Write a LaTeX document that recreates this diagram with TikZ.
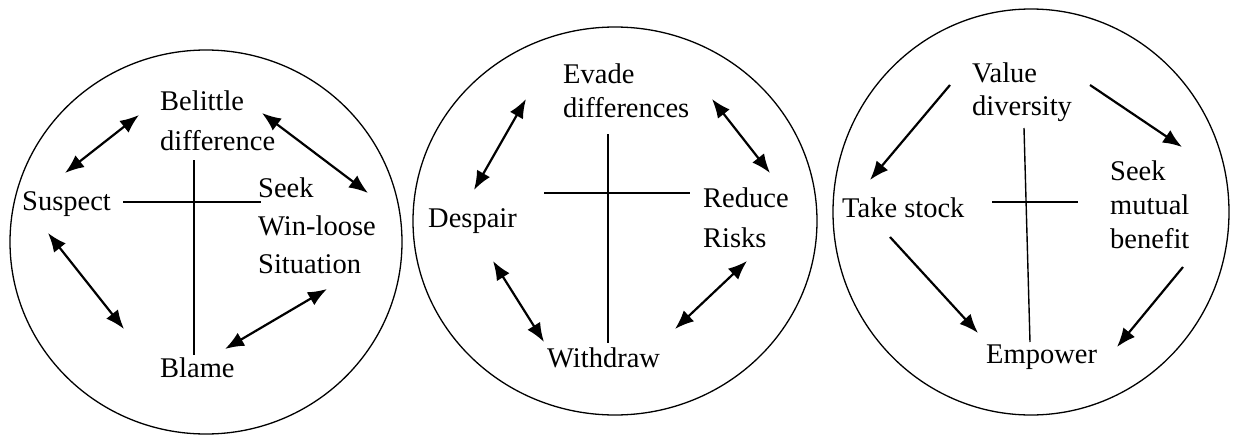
\documentclass[tikz,border=0pt]{standalone}
\usepackage{fontspec}
\setmainfont{Liberation Serif}
\usetikzlibrary{arrows.meta}
\begin{document}
\begin{tikzpicture}[x=1pt,y=-1pt,
  lbl/.style={anchor=base west,inner sep=0pt,align=left,font=\fontsize{28.5}{#1}\selectfont},
  lbl/.default=38,
  ring/.style={draw,line width=1.3pt},
  crossline/.style={draw,line width=1.4pt},
  dbl/.style={line width=2.2pt,{Latex[length=19pt,width=15pt]}-{Latex[length=19pt,width=15pt]}},
  sgl/.style={line width=2.2pt,-{Latex[length=19pt,width=15pt]}}]
\useasboundingbox (0,0) rectangle (1235,434);
% ---------- circle 1
\draw[ring] (206,242) ellipse [x radius=196pt,y radius=192pt];
\node[lbl=40] (belittle) at (160,150) {Belittle\\difference};
\node[lbl] (suspect) at (22,210) {Suspect};
\node[lbl=38] (seek1) at (258,273) {Seek\\Win-loose\\Situation};
\node[lbl] (blame) at (160,377) {Blame};
\coordinate (v1t) at (194,160); \coordinate (v1b) at (194,355);
\coordinate (h1l) at (123,202); \coordinate (h1r) at (261,202);
\draw[crossline] (v1t) -- (v1b);
\draw[crossline] (h1l) -- (h1r);
\coordinate (a1s) at (65,173);  \coordinate (a1e) at (139,115);
\coordinate (a2s) at (262,113); \coordinate (a2e) at (368,193);
\coordinate (a3s) at (48,233);  \coordinate (a3e) at (124,329);
\coordinate (a4s) at (225,349); \coordinate (a4e) at (327,289);
\draw[dbl] (a1s) -- (a1e);
\draw[dbl] (a2s) -- (a2e);
\draw[dbl] (a3s) -- (a3e);
\draw[dbl] (a4s) -- (a4e);
% ---------- circle 2
\draw[ring] (615,221) ellipse [x radius=202pt,y radius=194pt];
\node[lbl=34] (evade) at (563,117) {Evade\\differences};
\node[lbl] (despair) at (428,227) {Despair};
\node[lbl=40] (reduce) at (703,247) {Reduce\\Risks};
\node[lbl] (withdraw) at (547,367) {Withdraw};
\coordinate (v2t) at (608,134); \coordinate (v2b) at (608,343);
\coordinate (h2l) at (544,193); \coordinate (h2r) at (690,193);
\draw[crossline] (v2t) -- (v2b);
\draw[crossline] (h2l) -- (h2r);
\coordinate (b1s) at (474,190); \coordinate (b1e) at (526,99);
\coordinate (b2s) at (712,99);  \coordinate (b2e) at (770,173);
\coordinate (b3s) at (493,261); \coordinate (b3e) at (544,342);
\coordinate (b4s) at (747,261); \coordinate (b4e) at (675,329);
\draw[dbl] (b1s) -- (b1e);
\draw[dbl] (b2s) -- (b2e);
\draw[dbl] (b3s) -- (b3e);
\draw[dbl] (b4s) -- (b4e);
% ---------- circle 3
\draw[ring] (1031,212) ellipse [x radius=198pt,y radius=203pt];
\node[lbl=33] (value) at (972,115) {Value\\diversity};
\node[lbl] (take) at (842,217) {Take stock};
\node[lbl=34] (seek3) at (1110,248) {Seek\\mutual\\benefit};
\node[lbl] (empower) at (986,363) {Empower};
\coordinate (v3t) at (1024,128); \coordinate (v3b) at (1030,342);
\coordinate (h3l) at (992,202); \coordinate (h3r) at (1078,202);
\draw[crossline] (v3t) -- (v3b);
\draw[crossline] (h3l) -- (h3r);
\coordinate (c1s) at (950,85);  \coordinate (c1e) at (870,180);
\coordinate (c2s) at (1090,85); \coordinate (c2e) at (1182,147);
\coordinate (c3s) at (890,237); \coordinate (c3e) at (978,333);
\coordinate (c4s) at (1183,267); \coordinate (c4e) at (1117,347);
\draw[sgl] (c1s) -- (c1e);
\draw[sgl] (c2s) -- (c2e);
\draw[sgl] (c3s) -- (c3e);
\draw[sgl] (c4s) -- (c4e);
\end{tikzpicture}
\end{document}
